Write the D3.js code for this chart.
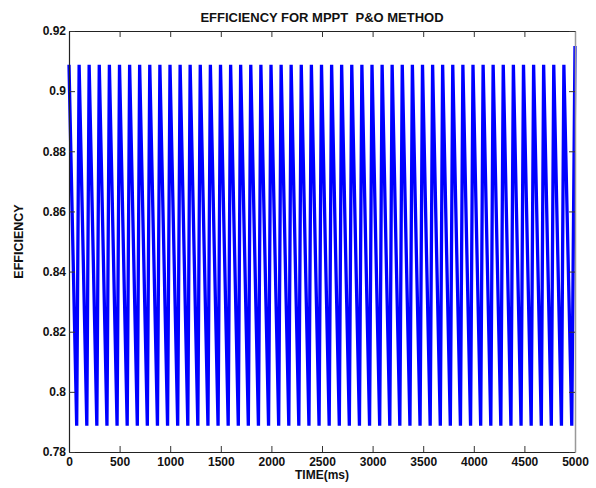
<!DOCTYPE html>
<html>
<head>
<meta charset="utf-8">
<script src="https://cdn.jsdelivr.net/npm/d3@7"></script>
<style>
  body { margin: 0; background: #fff; }
  text { font-family: "Liberation Sans", Arial, sans-serif; font-weight: bold; fill: #111; }
</style>
</head>
<body>
<div id="chart"></div>
<script>
// values
var peakTimes = [0, 100, 199, 299, 399, 499, 599, 698, 798, 898, 998, 1098, 1197, 1297, 1397,
  1497, 1597, 1696, 1796, 1896, 1996, 2096, 2195, 2295, 2395, 2495, 2595, 2694, 2794, 2894,
  2994, 3094, 3193, 3293, 3393, 3493, 3593, 3692, 3792, 3892, 3992, 4092, 4191, 4291, 4391,
  4491, 4591, 4690, 4790, 4890];
var troughTimes = [76, 176, 275, 375, 475, 575, 675, 774, 874, 974, 1074, 1174, 1273, 1373, 1473,
  1573, 1673, 1772, 1872, 1972, 2072, 2172, 2271, 2371, 2471, 2571, 2671, 2770, 2870, 2970,
  3070, 3170, 3269, 3369, 3469, 3569, 3669, 3768, 3868, 3968, 4068, 4168, 4267, 4367, 4467,
  4567, 4667, 4766, 4866, 4968];
var peakLevel = 0.9088;
var troughLevel = 0.7887;
var endTime = 5000;
var endLevel = 0.915;

var xTicks = [0, 500, 1000, 1500, 2000, 2500, 3000, 3500, 4000, 4500, 5000];
var yTicks = [0.78, 0.8, 0.82, 0.84, 0.86, 0.88, 0.9, 0.92];

var width = 596, height = 488;
var plotLeft = 69, plotRight = 575, plotTop = 31, plotBottom = 452;

var svg = d3.select("#chart").append("svg")
  .attr("width", width).attr("height", height);

var x = d3.scaleLinear().domain([0, 5000]).range([plotLeft, plotRight]);
var y = d3.scaleLinear().domain([0.78, 0.92]).range([plotBottom, plotTop]);

// alternate peaks and troughs into one trace
var points = [];
for (var i = 0; i < peakTimes.length; ++i) {
  points.push([peakTimes[i], peakLevel]);
  points.push([troughTimes[i], troughLevel]);
}
points.push([endTime, endLevel]);

var line = d3.line()
  .x(d => x(d[0]))
  .y(d => y(d[1]));

svg.append("path")
  .datum(points)
  .attr("d", line)
  .attr("fill", "none")
  .attr("stroke", "#0000ff")
  .attr("stroke-width", 3.3);

// axes, ticks pointing inward on all four sides
var fmt = d => String(+d.toFixed(2));

var gBottom = svg.append("g")
  .attr("transform", "translate(0," + plotBottom + ")")
  .call(d3.axisBottom(x).tickValues(xTicks).tickSizeInner(-6).tickSizeOuter(0).tickPadding(5).tickFormat(d3.format("d")));
var gTop = svg.append("g")
  .attr("transform", "translate(0," + plotTop + ")")
  .call(d3.axisTop(x).tickValues(xTicks).tickSizeInner(-6).tickSizeOuter(0).tickFormat(""));
var gLeft = svg.append("g")
  .attr("transform", "translate(" + plotLeft + ",0)")
  .call(d3.axisLeft(y).tickValues(yTicks).tickSizeInner(-6).tickSizeOuter(0).tickPadding(3).tickFormat(fmt));
var gRight = svg.append("g")
  .attr("transform", "translate(" + plotRight + ",0)")
  .call(d3.axisRight(y).tickValues(yTicks).tickSizeInner(-6).tickSizeOuter(0).tickFormat(""));

[gBottom, gTop, gLeft, gRight].forEach(g => {
  g.selectAll("text").style("font-size", "12px").attr("fill", "#111");
  g.selectAll("line").attr("stroke", "#333");
  g.select(".domain").attr("stroke", "#222").attr("stroke-width", 1.2);
});
gRight.select(".domain").attr("stroke", "#999").attr("stroke-width", 1.5);

// titles
svg.append("text")
  .attr("x", (plotLeft + plotRight) / 2).attr("y", 22)
  .attr("text-anchor", "middle")
  .attr("xml:space", "preserve")
  .style("font-size", "13px")
  .text("EFFICIENCY FOR MPPT  P&O METHOD");

svg.append("text")
  .attr("x", (plotLeft + plotRight) / 2).attr("y", 479)
  .attr("text-anchor", "middle")
  .style("font-size", "12px")
  .text("TIME(ms)");

svg.append("text")
  .attr("transform", "translate(23," + (plotTop + plotBottom) / 2 + ") rotate(-90)")
  .attr("text-anchor", "middle")
  .style("font-size", "12.5px")
  .text("EFFICIENCY");
</script>
</body>
</html>
